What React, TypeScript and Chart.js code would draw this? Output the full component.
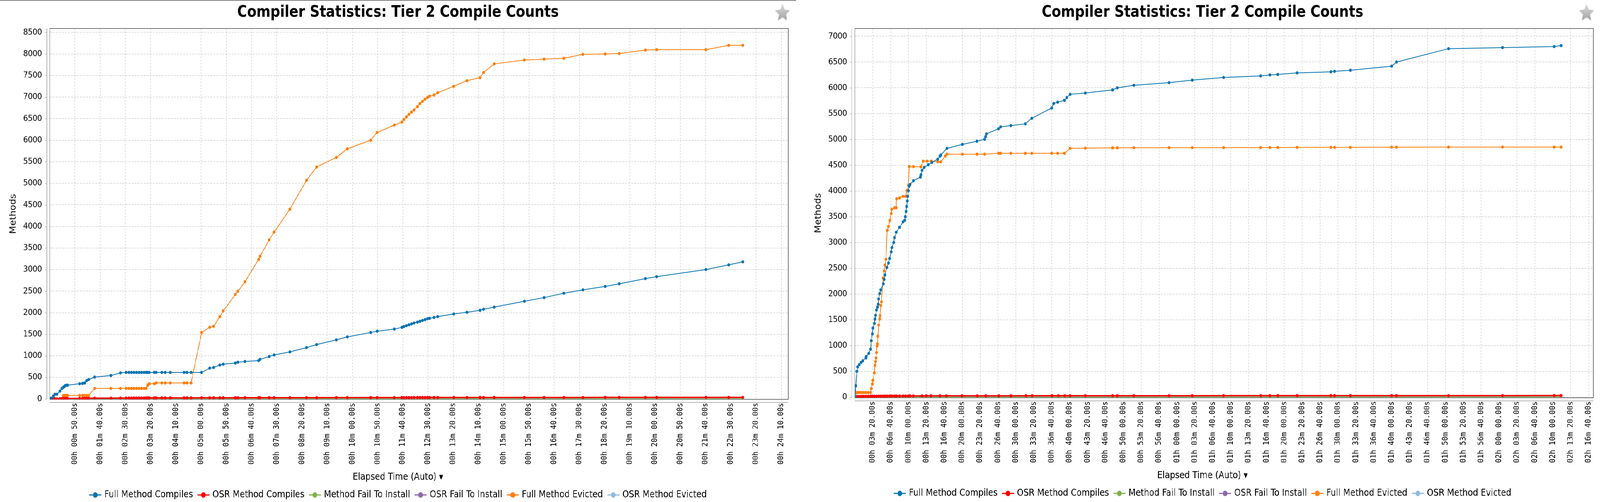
import React, { useEffect, useRef, useState } from 'react';
import { Chart, registerables } from 'chart.js';

Chart.register(...registerables);

const CHART_TITLE = 'Compiler Statistics: Tier 2 Compile Counts';
const Y_AXIS_TITLE = 'Methods';
const X_AXIS_TITLE = 'Elapsed Time (Auto) \u25BE';

const SERIES_NAMES = [
  'Full Method Compiles',
  'OSR Method Compiles',
  'Method Fail To Install',
  'OSR Fail To Install',
  'Full Method Evicted',
  'OSR Method Evicted',
];
const SERIES_COLORS = ['#0b74b0', '#ff0000', '#7db24a', '#8e6aab', '#ff7f0e', '#92bade'];
const ZERO_LINE_COLORS = ['rgba(125,178,74,0.65)', 'rgba(142,106,171,0.6)', 'rgba(146,186,222,0.6)'];

// ---------------- Left chart (elapsed seconds) ----------------
const leftXTicks = [50, 100, 150, 200, 250, 300, 350, 400, 450, 500, 550, 600, 650, 700, 750, 800, 850, 900, 950, 1000, 1050, 1100, 1150, 1200, 1250, 1300, 1350, 1400, 1450];
const leftYTicks = [0, 500, 1000, 1500, 2000, 2500, 3000, 3500, 4000, 4500, 5000, 5500, 6000, 6500, 7000, 7500, 8000, 8500];

const leftTimes = [3, 7, 10, 14, 20, 24, 27, 29, 31, 33, 35, 59, 65, 69, 73, 77, 89, 121, 140,
  151, 157, 162, 167, 172, 177, 182, 187, 191, 194, 197, 207, 211, 222, 229, 239, 266, 272, 280,
  301, 317, 325, 337, 344, 368, 373, 387, 414, 417, 435,
  445, 476, 509, 529, 568, 590, 636, 649, 683, 698,
  702, 707, 712, 717, 722, 729, 734, 739, 744, 749, 753, 762, 769,
  801, 827, 853, 860, 881, 941, 980, 1019, 1057, 1101, 1129, 1181, 1203, 1301, 1346, 1374];
const leftFullCompiles = [18, 63, 108, 108, 181, 244, 270, 289, 310, 317, 320, 353, 360, 371, 425, 450, 506, 543, 605,
  615, 615, 615, 615, 615, 615, 615, 615, 615, 615, 615, 615, 615, 615, 615, 615, 615, 615, 615,
  615, 714, 728, 787, 805, 832, 850, 868, 890, 918, 985,
  1020, 1090, 1190, 1260, 1370, 1440, 1540, 1570, 1620, 1660,
  1680, 1700, 1720, 1740, 1760, 1780, 1800, 1820, 1840, 1860, 1870, 1890, 1910,
  1970, 2010, 2055, 2080, 2130, 2265, 2350, 2450, 2530, 2610, 2670, 2790, 2835, 3000, 3110, 3180];
const leftFullEvicted = [0, 0, 0, 0, 0, 0, 81, 81, 81, 81, 81, 81, 81, 81, 81, 81, 244, 244, 244,
  244, 244, 244, 244, 244, 244, 244, 244, 244, 317, 353, 353, 371, 371, 371, 371, 371, 371, 371,
  1540, 1664, 1686, 1908, 2043, 2423, 2495, 2717, 3237, 3309, 3689,
  3870, 4400, 5070, 5380, 5600, 5800, 6000, 6180, 6350, 6420,
  6480, 6540, 6600, 6650, 6700, 6780, 6850, 6900, 6950, 6990, 7020, 7050, 7100,
  7250, 7380, 7450, 7570, 7770, 7860, 7880, 7900, 7990, 8000, 8010, 8090, 8100, 8100, 8200, 8200];
const leftOsrCompiles = [0, 2, 4, 5, 6, 8, 9, 10, 10, 11, 12, 13, 14, 14, 15, 16, 18, 19, 20,
  20, 21, 21, 22, 22, 22, 23, 23, 23, 24, 24, 24, 25, 25, 25, 25, 26, 26, 26,
  27, 27, 27, 28, 28, 28, 28, 29, 29, 29, 29,
  30, 30, 30, 30, 31, 31, 31, 31, 32, 32,
  32, 32, 32, 32, 33, 33, 33, 33, 33, 33, 33, 34, 34,
  34, 34, 34, 34, 35, 35, 35, 35, 35, 36, 36, 36, 36, 36, 37, 37];
const leftZeroTimes = [3, 1374];
const leftMethodFail = [0, 0];
const leftOsrFail = [0, 0];
const leftOsrEvicted = [0, 0];

// ---------------- Right chart (elapsed seconds) ----------------
const rightXTicks = [200, 400, 600, 800, 1000, 1200, 1400, 1600, 1800, 2000, 2200, 2400, 2600, 2800, 3000, 3200, 3400, 3600, 3800, 4000, 4200, 4400, 4600, 4800, 5000, 5200, 5400, 5600, 5800, 6000, 6200, 6400, 6600, 6800, 7000, 7200, 7400, 7600, 7800, 8000, 8200];
const rightYTicks = [0, 500, 1000, 1500, 2000, 2500, 3000, 3500, 4000, 4500, 5000, 5500, 6000, 6500, 7000];

const rightFullTimes = [3, 11, 23, 30, 49, 71, 90, 124, 128,
  156, 177, 184, 195, 203, 218, 225, 233, 242, 252,
  262, 266, 277, 290, 319, 327, 338, 357, 376, 387,
  406, 413, 434, 443, 462, 500, 539, 559, 564, 572,
  579, 587, 591, 598, 609, 617, 654, 732, 737, 752,
  776, 819, 861, 925, 951, 962, 1029, 1201, 1365, 1451,
  1461, 1470, 1604, 1628, 1742, 1906, 1977, 2199, 2222, 2267,
  2343, 2368, 2406, 2575, 2880, 2932, 3117, 3512, 3770, 4120,
  4536, 4637, 4727, 4944, 5320, 5361, 5538, 6000, 6053, 6635,
  7237, 7816, 7891];
const rightFullCompiles = [10, 220, 500, 586, 629, 674, 705, 760, 788,
  848, 932, 1094, 1227, 1341, 1427, 1515, 1586, 1689, 1746,
  1803, 1905, 2008, 2080, 2197, 2283, 2371, 2515, 2601, 2688,
  2818, 2901, 3000, 3094, 3197, 3295, 3401, 3431, 3500, 3601,
  3697, 3805, 3897, 4002, 4095, 4124, 4197, 4268, 4312, 4400,
  4457, 4508, 4553, 4614, 4674, 4697, 4826, 4902, 4965, 5002,
  5053, 5106, 5205, 5243, 5267, 5302, 5409, 5608, 5697, 5722,
  5758, 5811, 5874, 5900, 5960, 6000, 6050, 6100, 6150, 6200,
  6230, 6250, 6260, 6290, 6310, 6320, 6340, 6420, 6500, 6760,
  6780, 6800, 6820];

const rightEvictedTimes = [3, 11, 19, 23, 30, 45, 64, 83, 101, 124,
  150, 177, 184, 195, 203, 218, 225, 233, 237, 242,
  248, 252, 258, 266, 277, 281, 290, 297, 316, 327,
  338, 348, 361, 376, 391, 406, 413, 443, 462, 466,
  500, 539, 568, 583, 598, 609, 654, 737, 763, 808,
  856, 925, 962, 1010, 1029, 1201, 1365, 1451, 1604, 1628,
  1742, 1906, 1977, 2199, 2267, 2343, 2406, 2575, 2880, 2932,
  3117, 3512, 3770, 4120, 4536, 4637, 4727, 4944, 5320, 5361,
  5538, 6000, 6053, 6635, 7237, 7816, 7891];
const rightFullEvicted = [0, 0, 90, 90, 90, 90, 90, 90, 90, 90,
  90, 90, 167, 253, 326, 470, 615, 689, 760, 863,
  992, 1030, 1182, 1398, 1515, 1578, 1780, 1848, 2310, 2447,
  2561, 2674, 3234, 3310, 3427, 3561, 3644, 3674, 3674, 3848,
  3864, 3894, 3894, 4008, 4110, 4472, 4472, 4466, 4576, 4579,
  4579, 4565, 4565, 4674, 4712, 4712, 4712, 4712, 4730, 4730,
  4730, 4730, 4730, 4730, 4730, 4730, 4826, 4830, 4835, 4835,
  4838, 4840, 4840, 4840, 4842, 4842, 4842, 4845, 4845, 4845,
  4845, 4848, 4848, 4850, 4850, 4850, 4850];

const rightOsrTimes = [3, 15, 30, 45, 64, 83, 101, 124, 150, 177,
  195, 218, 242, 266, 290, 316, 338, 361, 391, 413,
  443, 466, 500, 539, 568, 598, 617, 654, 752, 800,
  850, 951, 1023, 1196, 1369, 1463, 1609, 1744, 1914, 1981,
  2203, 2274, 2346, 2406, 2575, 2880, 2932, 3117, 3512, 3770,
  4120, 4536, 4637, 4727, 4944, 5320, 5361, 5538, 6000, 6053,
  6635, 7237, 7816, 7891];
const rightOsrCompiles = [0, 6, 9, 11, 12, 13, 14, 15, 16, 17,
  17, 18, 18, 19, 19, 20, 20, 20, 21, 21,
  21, 22, 22, 22, 22, 23, 23, 23, 23, 24,
  24, 24, 24, 25, 25, 25, 25, 25, 26, 26,
  26, 26, 26, 26, 26, 27, 27, 27, 27, 27,
  28, 28, 28, 28, 28, 28, 28, 28, 29, 29,
  29, 29, 30, 30];
const rightZeroTimes = [3, 7891];
const rightMethodFail = [0, 0];
const rightOsrFail = [0, 0];
const rightOsrEvicted = [0, 0];

// ---------------- layout / style ----------------
const PAGE_W = 4756;
const PANEL_H = 1286;
const FONT = '"DejaVu Sans", Verdana, sans-serif';
const MONO = '"DejaVu Sans Mono", monospace';
const TITLE_WIDTH = 956;
const X_LABEL_LENGTH = 158;

type SeriesSpec = { times: number[]; values: number[] };

type PanelCfg = {
  left: number;
  width: number;
  plotLeft: number;
  plotRight: number;
  plotTop: number;
  plotBottom: number;
  xMax: number;
  yMin: number;
  yMax: number;
  topLine: boolean;
  xTicks: number[];
  yTicks: number[];
  series: SeriesSpec[];
};

const leftPanel: PanelCfg = {
  left: 0, width: 2366, plotLeft: 148, plotRight: 2343, plotTop: 73, plotBottom: 1023,
  xMax: 1464, yMin: -9, yMax: 8590, topLine: true,
  xTicks: leftXTicks, yTicks: leftYTicks,
  series: [
    { times: leftTimes, values: leftFullCompiles },
    { times: leftTimes, values: leftOsrCompiles },
    { times: leftZeroTimes, values: leftMethodFail },
    { times: leftZeroTimes, values: leftOsrFail },
    { times: leftTimes, values: leftFullEvicted },
    { times: leftZeroTimes, values: leftOsrEvicted },
  ],
};

const rightPanel: PanelCfg = {
  left: 2393, width: 2363, plotLeft: 148, plotRight: 2343, plotTop: 73, plotBottom: 1019,
  xMax: 8252, yMin: -13, yMax: 7151, topLine: false,
  xTicks: rightXTicks, yTicks: rightYTicks,
  series: [
    { times: rightFullTimes, values: rightFullCompiles },
    { times: rightOsrTimes, values: rightOsrCompiles },
    { times: rightZeroTimes, values: rightMethodFail },
    { times: rightZeroTimes, values: rightOsrFail },
    { times: rightEvictedTimes, values: rightFullEvicted },
    { times: rightZeroTimes, values: rightOsrEvicted },
  ],
};

function pad2(n: number) {
  return n < 10 ? '0' + n : String(n);
}
function formatElapsed(sec: number) {
  const h = Math.floor(sec / 3600);
  const m = Math.floor((sec % 3600) / 60);
  const s = sec % 60;
  return `${pad2(h)}h ${pad2(m)}m ${pad2(s)}.00s`;
}

function drawStar(ctx: CanvasRenderingContext2D, cx: number, cy: number, R: number, r: number) {
  ctx.save();
  ctx.beginPath();
  for (let i = 0; i < 10; i++) {
    const ang = -Math.PI / 2 + (i * Math.PI) / 5;
    const rad = i % 2 === 0 ? R : r;
    const px = cx + rad * Math.cos(ang);
    const py = cy + rad * Math.sin(ang);
    if (i === 0) ctx.moveTo(px, py);
    else ctx.lineTo(px, py);
  }
  ctx.closePath();
  ctx.shadowColor = 'rgba(0,0,0,0.18)';
  ctx.shadowBlur = 3;
  ctx.shadowOffsetY = 2;
  const g = ctx.createLinearGradient(0, cy - R, 0, cy + R);
  g.addColorStop(0, '#dcdcdc');
  g.addColorStop(1, '#9c9c9c');
  ctx.fillStyle = g;
  ctx.fill();
  ctx.restore();
}

function makeDecor(cfg: PanelCfg) {
  return {
    id: 'decor',
    beforeDatasetsDraw(chart: any) {
      const { ctx, chartArea: a } = chart;
      ctx.save();
      ctx.strokeStyle = '#b5b5b5';
      ctx.lineWidth = 2;
      ctx.beginPath();
      ctx.moveTo(a.left - 9, a.top);
      ctx.lineTo(a.left - 9, a.bottom);
      ctx.moveTo(a.left, a.bottom + 8);
      ctx.lineTo(a.right, a.bottom + 8);
      ctx.stroke();
      const ys = chart.scales.y;
      ctx.lineWidth = 1;
      ctx.strokeStyle = '#9a9a9a';
      ctx.beginPath();
      ys.ticks.forEach((t: any) => {
        const py = Math.round(ys.getPixelForValue(t.value)) + 0.5;
        ctx.moveTo(a.left - 14, py);
        ctx.lineTo(a.left - 9, py);
      });
      ctx.stroke();
      ctx.strokeStyle = '#767676';
      ctx.lineWidth = 2;
      ctx.strokeRect(a.left, a.top, a.right - a.left, a.bottom - a.top);
      ctx.restore();
    },
    afterDraw(chart: any) {
      const { ctx, chartArea: a } = chart;
      const W = cfg.width;
      ctx.save();
      if (cfg.topLine) {
        ctx.fillStyle = '#7f7f7f';
        ctx.fillRect(0, 0, W, 2);
      }
      ctx.fillStyle = '#000';
      ctx.font = `bold 40px ${FONT}`;
      const tw = ctx.measureText(CHART_TITLE).width;
      const k = TITLE_WIDTH / tw;
      ctx.save();
      ctx.translate(W / 2, 43);
      ctx.scale(k, 1);
      ctx.textAlign = 'center';
      ctx.textBaseline = 'alphabetic';
      ctx.fillText(CHART_TITLE, 0, 0);
      ctx.restore();
      drawStar(ctx, W - 40, 33, 23, 10.5);
      ctx.save();
      ctx.font = `24px ${FONT}`;
      ctx.fillStyle = '#000';
      ctx.translate(40, (a.top + a.bottom) / 2);
      ctx.rotate(-Math.PI / 2);
      ctx.textAlign = 'center';
      ctx.textBaseline = 'middle';
      ctx.fillText(Y_AXIS_TITLE, 0, 0);
      ctx.restore();
      const xs = chart.scales.x;
      ctx.font = `23px ${MONO}`;
      ctx.fillStyle = '#000';
      const sample = ctx.measureText(formatElapsed(cfg.xTicks[0])).width;
      const kx = X_LABEL_LENGTH / sample;
      xs.ticks.forEach((t: any) => {
        const px = xs.getPixelForValue(t.value);
        ctx.save();
        ctx.translate(px, a.bottom + 9);
        ctx.rotate(-Math.PI / 2);
        ctx.scale(kx, 1);
        ctx.textAlign = 'right';
        ctx.textBaseline = 'middle';
        ctx.fillText(formatElapsed(t.value), 0, 0);
        ctx.restore();
      });
      ctx.font = `24.6px ${FONT}`;
      ctx.textAlign = 'center';
      ctx.textBaseline = 'middle';
      ctx.fillText(X_AXIS_TITLE, W / 2, a.bottom + 200);
      const markerW = 36;
      const markerGap = 9;
      const itemGap = 13;
      const widths = SERIES_NAMES.map((n) => ctx.measureText(n).width);
      const total = widths.reduce((s, w) => s + markerW + markerGap + w, 0) + itemGap * (SERIES_NAMES.length - 1);
      let x = (W - total) / 2;
      const ly = a.bottom + 245;
      ctx.textAlign = 'left';
      SERIES_NAMES.forEach((n, i) => {
        const c = SERIES_COLORS[i];
        ctx.strokeStyle = c;
        ctx.lineWidth = 3;
        ctx.beginPath();
        ctx.moveTo(x, ly);
        ctx.lineTo(x + markerW, ly);
        ctx.stroke();
        ctx.fillStyle = c;
        ctx.beginPath();
        ctx.arc(x + markerW / 2, ly, 7, 0, Math.PI * 2);
        ctx.fill();
        ctx.fillStyle = '#000';
        ctx.fillText(n, x + markerW + markerGap, ly);
        x += markerW + markerGap + widths[i] + itemGap;
      });
      ctx.restore();
    },
  };
}

function buildDatasets(cfg: PanelCfg) {
  return cfg.series.map((s, i) => {
    const isZero = i === 2 || i === 3 || i === 5;
    const color = SERIES_COLORS[i];
    const lineColor = isZero ? ZERO_LINE_COLORS[i === 2 ? 0 : i === 3 ? 1 : 2] : color;
    return {
      label: SERIES_NAMES[i],
      data: s.times.map((t, j) => ({ x: t, y: s.values[j] })),
      borderColor: lineColor,
      backgroundColor: color,
      pointBackgroundColor: color,
      pointBorderWidth: 0,
      pointRadius: isZero ? 0 : 4,
      borderWidth: isZero ? 4 : i === 1 ? 3.5 : 2,
      tension: 0,
      fill: false,
    };
  });
}

function ChartPanel({ cfg }: { cfg: PanelCfg }) {
  const ref = useRef<HTMLCanvasElement>(null);
  useEffect(() => {
    if (!ref.current) return;
    const xAxisH = 40;
    const chart = new Chart(ref.current, {
      type: 'line',
      data: { datasets: buildDatasets(cfg) as any },
      options: {
        animation: false,
        responsive: false,
        maintainAspectRatio: false,
        events: [],
        layout: {
          padding: {
            left: 0,
            top: cfg.plotTop,
            right: cfg.width - cfg.plotRight,
            bottom: PANEL_H - cfg.plotBottom - xAxisH,
          },
        },
        plugins: {
          legend: { display: false },
          title: { display: false },
          tooltip: { enabled: false },
        },
        scales: {
          x: {
            type: 'linear',
            min: 0,
            max: cfg.xMax,
            afterBuildTicks: (s: any) => {
              s.ticks = cfg.xTicks.map((v) => ({ value: v }));
            },
            afterFit: (s: any) => {
              s.height = xAxisH;
            },
            ticks: { display: false },
            grid: { color: '#bdbdbd', lineWidth: 1, drawTicks: false },
            border: { display: false, dash: [4, 4] },
          },
          y: {
            type: 'linear',
            min: cfg.yMin,
            max: cfg.yMax,
            afterBuildTicks: (s: any) => {
              s.ticks = cfg.yTicks.map((v) => ({ value: v }));
            },
            afterFit: (s: any) => {
              s.width = cfg.plotLeft;
            },
            ticks: {
              font: { family: FONT, size: 22 },
              color: '#111',
              padding: 23,
              callback: (v: any) => String(v),
            },
            grid: { color: '#bdbdbd', lineWidth: 1, drawTicks: false },
            border: { display: false, dash: [6, 3] },
          },
        },
      },
      plugins: [makeDecor(cfg)],
    });
    return () => chart.destroy();
  }, [cfg]);
  return (
    <canvas
      ref={ref}
      width={cfg.width}
      height={PANEL_H}
      style={{ position: 'absolute', left: cfg.left, top: 0, width: cfg.width, height: PANEL_H }}
    />
  );
}

function readViewport() {
  const w = Math.min(window.innerWidth || PAGE_W, document.documentElement.clientWidth || PAGE_W);
  const h = window.innerHeight || PANEL_H;
  return { w, h };
}

export default function App() {
  const [vp, setVp] = useState(readViewport);
  useEffect(() => {
    const onResize = () => setVp(readViewport());
    window.addEventListener('resize', onResize);
    return () => window.removeEventListener('resize', onResize);
  }, []);
  const sx = vp.w / PAGE_W;
  const sy = vp.h / PANEL_H;
  return (
    <div style={{ position: 'fixed', left: 0, top: 0, width: vp.w, height: vp.h, overflow: 'hidden', background: '#fff' }}>
      <div
        style={{
          position: 'absolute',
          left: 0,
          top: 0,
          width: PAGE_W,
          height: PANEL_H,
          transform: `scale(${sx}, ${sy})`,
          transformOrigin: '0 0',
        }}
      >
        <ChartPanel cfg={leftPanel} />
        <ChartPanel cfg={rightPanel} />
      </div>
    </div>
  );
}
